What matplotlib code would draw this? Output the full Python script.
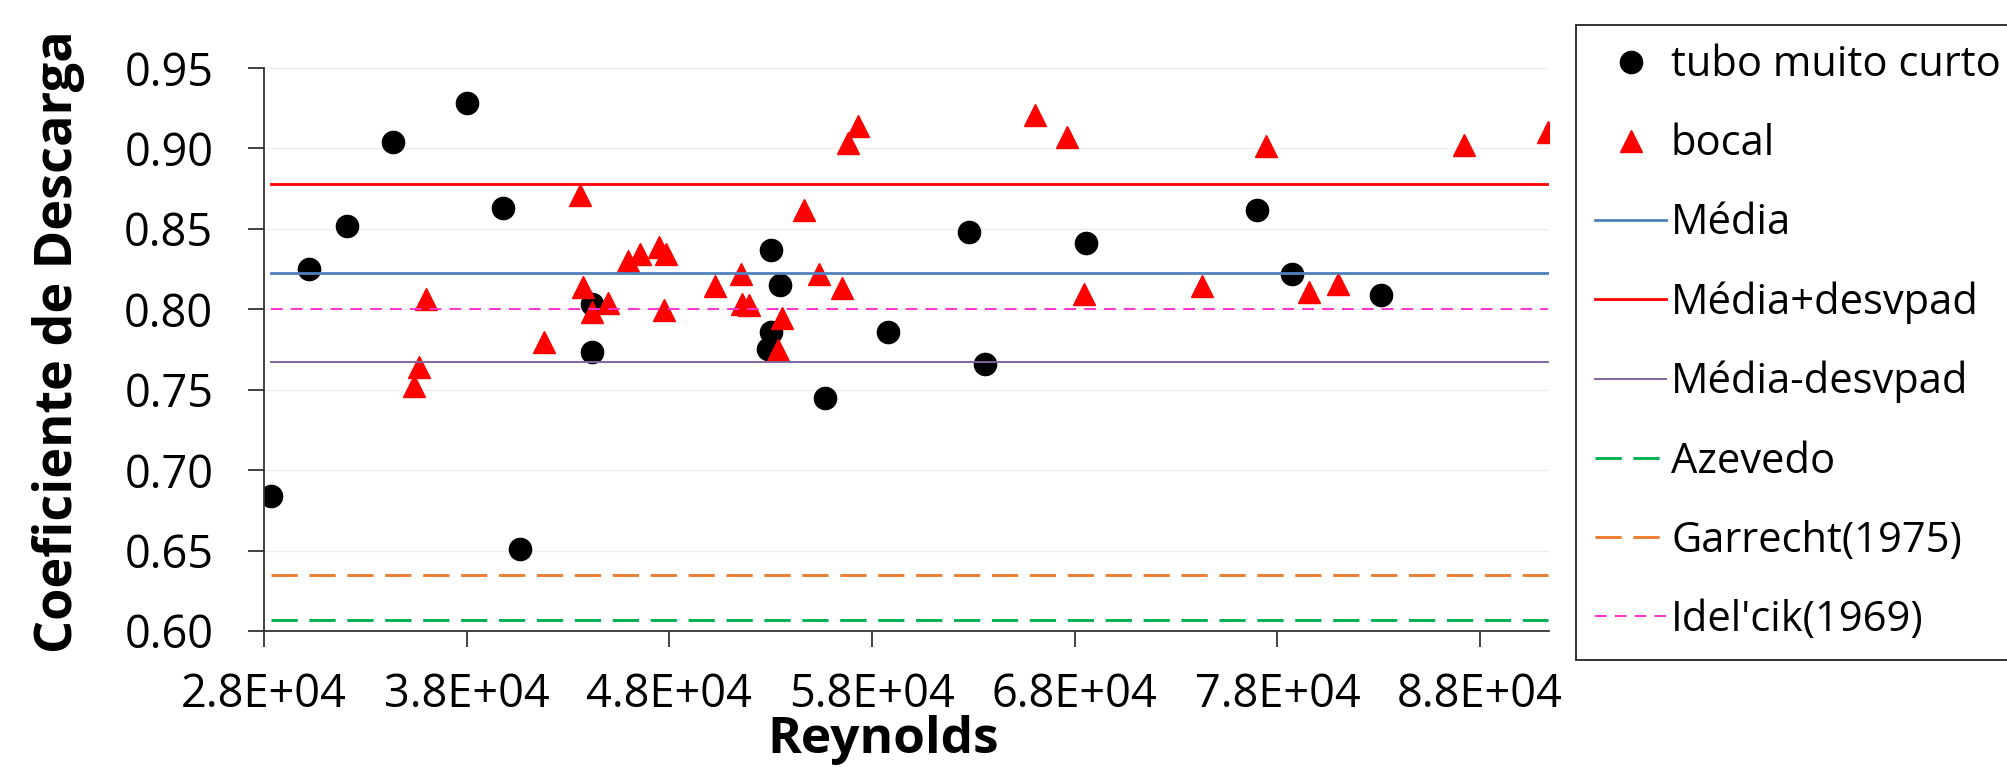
import matplotlib
matplotlib.use("Agg")
import matplotlib.pyplot as plt
from matplotlib.ticker import FuncFormatter

# ---- data ----
re_tubo = [28340, 30230, 32080, 34350, 38030, 39790, 40640, 44200, 44200,
           52890, 53020, 53020, 53460, 55700, 58810, 62800, 63550, 68540,
           77000, 78730, 83120]
cd_tubo = [0.684, 0.825, 0.852, 0.904, 0.928, 0.863, 0.651, 0.803, 0.7735,
           0.775, 0.786, 0.837, 0.815, 0.745, 0.786, 0.848, 0.766, 0.841,
           0.862, 0.822, 0.809]

re_bocal = [35420, 35630, 35990, 41820, 43580, 43750, 44200, 44960, 45980,
            46570, 47470, 47740, 47850, 50270, 51550, 51560, 51940, 53350,
            53540, 54620, 55390, 56530, 56830, 57300, 66050, 67610, 68460,
            74290, 77440, 79560, 80990, 87200, 91330]
cd_bocal = [0.7526, 0.7642, 0.8061, 0.7795, 0.8713, 0.8140, 0.7985, 0.8036, 0.8300,
            0.8345, 0.8389, 0.7995, 0.8345, 0.8144, 0.8221, 0.8035, 0.8027, 0.7745,
            0.7945, 0.8616, 0.8217, 0.8135, 0.9031, 0.9140, 0.9209, 0.9073, 0.8093,
            0.8144, 0.9016, 0.8106, 0.8160, 0.9024, 0.9105]

line_labels = ["Média", "Média+desvpad", "Média-desvpad", "Azevedo",
               "Garrecht(1975)", "Idel'cik(1969)"]
line_values = [0.8226, 0.878, 0.7675, 0.607, 0.635, 0.800]

y_ticks = [0.60, 0.65, 0.70, 0.75, 0.80, 0.85, 0.90, 0.95]
x_ticks = [28000, 38000, 48000, 58000, 68000, 78000, 88000]

# ---- styles ----
line_styles = [
    dict(color="#4F81BD", lw=2.0, ls="-"),
    dict(color="#FF0000", lw=2.0, ls="-"),
    dict(color="#8064A2", lw=1.4, ls="-"),
    dict(color="#00B050", lw=2.1, ls=(0, (9.0, 4.0))),
    dict(color="#ED7D31", lw=2.1, ls=(0, (9.0, 4.0))),
    dict(color="#FF33CC", lw=1.4, ls=(0, (6.0, 4.2))),
]

plt.rcParams['font.family'] = ['Open Sans', 'DejaVu Sans']
W, H = 2007, 769
fig = plt.figure(figsize=(W / 100, H / 100), dpi=100)
ax = fig.add_axes([264 / W, 1 - 631 / H, (1549 - 264) / W, (631 - 68) / H])

ax.plot(re_tubo, cd_tubo, ls="none", marker="o", ms=16, color="black",
        label="tubo muito curto")
ax.plot(re_bocal, cd_bocal, ls="none", marker="^", ms=15.5, color="#FF0000",
        label="bocal")

all_re = re_tubo + re_bocal
x0, x1 = min(all_re), max(all_re)
for lab, val, st in zip(line_labels, line_values, line_styles):
    ax.plot([x0, x1], [val, val], label=lab, color=st["color"], lw=st["lw"],
            ls=st["ls"])

ax.set_xlim(28000, 91400)
ax.set_ylim(0.60, 0.95)
ax.set_xticks(x_ticks)
ax.set_yticks(y_ticks)
ax.xaxis.set_major_formatter(FuncFormatter(lambda v, p: f"{v:.1E}"))
ax.yaxis.set_major_formatter(FuncFormatter(lambda v, p: f"{v:.2f}"))

ax.grid(axis="y", color="#EEEEEE", lw=1.0, zorder=0)
ax.set_axisbelow(True)
for s in ["top", "right"]:
    ax.spines[s].set_visible(False)
for s in ["left", "bottom"]:
    ax.spines[s].set_color("#333333")
    ax.spines[s].set_linewidth(1.3)
ax.tick_params(axis="both", direction="out", length=11.5, width=1.3,
               color="#333333", labelsize=32.5, labelcolor="black")
ax.tick_params(axis="y", pad=25)
ax.tick_params(axis="x", pad=18)

ax.set_ylabel("Coeficiente de Descarga", fontsize=37.5, fontweight="bold")
ax.yaxis.set_label_coords(-0.139, 0.513)
ax.set_xlabel("Reynolds", fontsize=37, fontweight="bold")
ax.xaxis.set_label_coords(0.4817, -0.150)

leg = ax.legend(loc="upper left", bbox_to_anchor=(1576 / W, 1 - 25 / H),
                bbox_transform=fig.transFigure, fontsize=30, frameon=True,
                fancybox=False, edgecolor="black", handlelength=1.7,
                handletextpad=0.12, labelspacing=0.89, borderpad=0.46,
                borderaxespad=0, numpoints=1)
leg.get_frame().set_linewidth(1.4)

fig.savefig("out.png", dpi=100)
